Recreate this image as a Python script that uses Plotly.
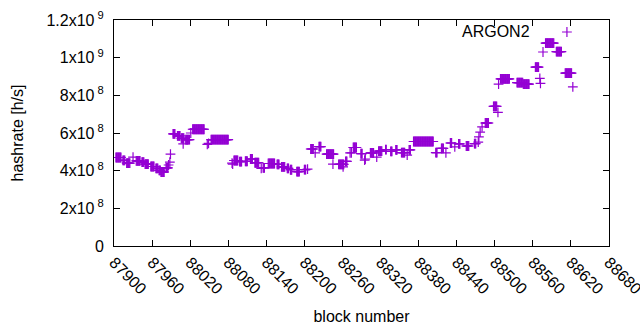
import plotly.graph_objects as go

# Step segments (block range, hashrate in units of 1e8 h/s)
seg_start = [87903, 87914, 87920, 87935, 87944, 87949, 87958, 87966, 87971, 87974, 87982,
             87993, 88000, 88006, 88013, 88024, 88053, 88089, 88098, 88107, 88115, 88122,
             88135, 88143, 88157, 88164, 88173, 88178, 88188, 88200, 88210, 88223, 88235,
             88254, 88265, 88274, 88277, 88289, 88304, 88317, 88328, 88336, 88344, 88353,
             88365, 88372, 88407, 88416, 88430, 88443, 88455, 88468, 88485, 88498, 88509,
             88535, 88545, 88564, 88580, 88597, 88611]
seg_end = [87911, 87917, 87925, 87941, 87947, 87954, 87963, 87969, 87973, 87979, 87985,
           87996, 88004, 88010, 88019, 88042, 88080, 88095, 88101, 88110, 88118, 88128,
           88137, 88153, 88160, 88169, 88175, 88180, 88192, 88202, 88214, 88226, 88246,
           88262, 88267, 88274, 88282, 88291, 88309, 88322, 88329, 88338, 88346, 88358,
           88367, 88403, 88409, 88419, 88432, 88445, 88459, 88470, 88490, 88503, 88523,
           88544, 88554, 88569, 88593, 88605, 88621]
seg_value = [4.70, 4.55, 4.40, 4.52, 4.45, 4.35, 4.22, 4.12, 4.02, 3.93, 4.15,
             5.95, 5.85, 5.72, 5.65, 6.20, 5.65, 4.54, 4.48, 4.50, 4.62, 4.42,
             4.15, 4.38, 4.33, 4.20, 4.12, 4.05, 3.95, 4.06, 5.15, 5.28, 4.88,
             4.33, 4.49, 4.94, 5.23, 4.91, 4.94, 5.04, 5.12, 5.02, 5.10, 4.96,
             5.10, 5.55, 4.96, 5.18, 5.47, 5.42, 5.31, 5.44, 6.53, 7.41, 8.87,
             8.68, 8.60, 9.50, 10.77, 10.32, 9.18]

# Isolated points (block, hashrate in units of 1e8 h/s)
single_block = [87930, 87986, 87988, 87989, 88009, 88021, 88047, 88049, 88086, 88087,
                88132, 88205, 88217, 88245, 88261, 88272, 88295, 88296, 88314, 88362,
                88423, 88437, 88474, 88475, 88477, 88480, 88505, 88506, 88571, 88572,
                88576, 88623]
single_value = [4.72, 4.30, 4.45, 4.88, 5.42, 6.00, 5.40, 5.45, 4.40, 4.35,
                4.12, 4.08, 4.94, 4.35, 4.20, 4.94, 4.56, 4.62, 4.72, 4.83,
                4.94, 5.26, 5.52, 5.79, 6.05, 6.32, 7.10, 8.60, 8.90, 8.63,
                10.30, 8.45]

x_ticks = list(range(87900, 88681, 60))
y_ticks = [0, 2e8, 4e8, 6e8, 8e8, 1e9, 1.2e9]
y_tick_text = ["0", "2x10<sup>\u00a08</sup>", "4x10<sup>\u00a08</sup>", "6x10<sup>\u00a08</sup>",
               "8x10<sup>\u00a08</sup>", "1x10<sup>\u00a09</sup>", "1.2x10<sup>\u00a09</sup>"]
series_name = "ARGON2"

blocks, rates = [], []
for s, e, v in zip(seg_start, seg_end, seg_value):
    for b in range(s, e + 1):
        blocks.append(b)
        rates.append(v * 1e8)
for b, v in zip(single_block, single_value):
    blocks.append(b)
    rates.append(v * 1e8)

color = "#9400D3"
marker = dict(symbol="cross-thin", size=7, line=dict(width=1.2, color=color), color=color)

fig = go.Figure()
fig.add_trace(go.Scatter(x=blocks, y=rates, mode="markers", marker=marker,
                         name=series_name, showlegend=False))
# key sample (gnuplot style: text then symbol)
fig.add_trace(go.Scatter(x=[0.915], y=[0.947], mode="markers", marker=marker,
                         xaxis="x2", yaxis="y2", showlegend=False, hoverinfo="skip"))

font = dict(family="Liberation Sans, Arial, sans-serif", size=16, color="#000000")
axis_common = dict(showline=True, linecolor="black", linewidth=1, mirror="ticks",
                   ticks="inside", ticklen=6, tickcolor="black", showgrid=False,
                   zeroline=False, tickfont=font, automargin=False)

fig.update_layout(
    width=640, height=330,
    margin=dict(l=114, r=31, t=20, b=84),
    paper_bgcolor="white", plot_bgcolor="white",
    font=font,
    xaxis=dict(range=[87900, 88680], tickvals=x_ticks, ticktext=[str(t) for t in x_ticks],
               tickangle=45, ticklabeloverflow="allow",
               title=dict(text="block number", font=font, standoff=14),
               **axis_common),
    yaxis=dict(range=[0, 1.2e9], tickvals=y_ticks, ticktext=y_tick_text,
               ticklabelstandoff=6,
               title=dict(text="hashrate [h/s]", font=font, standoff=18),
               **axis_common),
    xaxis2=dict(range=[0, 1], overlaying="x", visible=False, fixedrange=True),
    yaxis2=dict(range=[0, 1], overlaying="y", visible=False, fixedrange=True),
    annotations=[dict(text=series_name, xref="paper", yref="paper", x=0.844, y=0.947,
                      xanchor="right", yanchor="middle", showarrow=False, font=font)],
)

fig.write_html("out.html", config={"displayModeBar": False},
               post_script="document.body.style.margin='0';")
